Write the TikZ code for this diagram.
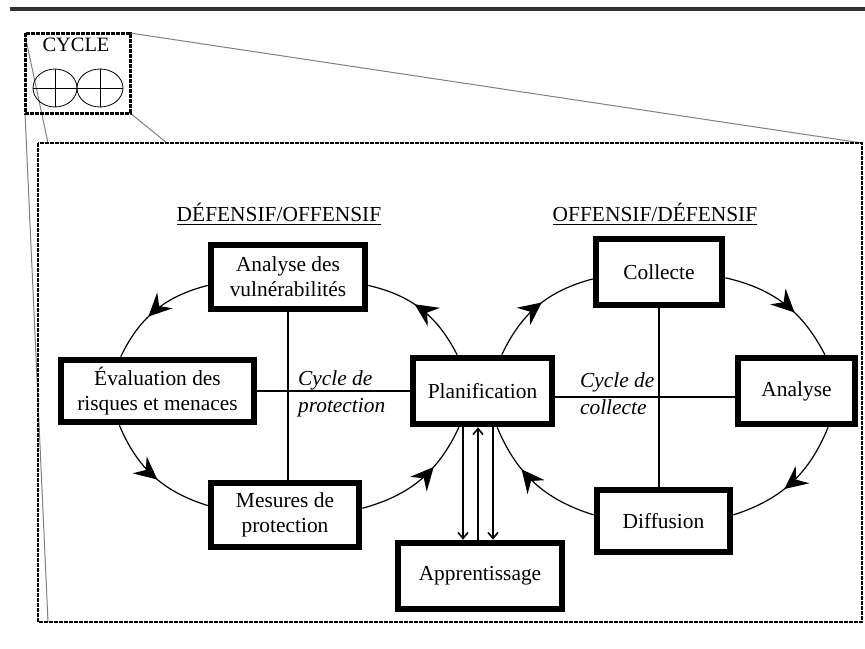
\documentclass[tikz,border=0pt]{standalone}
\usepackage{fontspec}
\setmainfont{Liberation Serif}
\usetikzlibrary{arrows.meta,decorations.markings}

\begin{document}
\begin{tikzpicture}[x=0.5pt,y=-0.5pt,
	font=\fontsize{10.7}{12.5}\selectfont,
	box/.style={draw, line width=3.3pt, fill=white, align=center, inner sep=0pt},
	frame/.style={line width=#1, dash pattern=on 2pt off 0.5pt},
	zoomline/.style={gray, line width=0.5pt},
	link/.style={line width=0.6pt},
	cyc/.style={line width=0.6pt, postaction={decorate}, decoration={markings,
		mark=at position #1 with {\arrow{Stealth[length=11.5pt,width=11pt,inset=4pt]}}}},
	flow/.style={line width=0.8pt, -{Straight Barb[length=3pt,width=5pt]}}]

	\useasboundingbox (0,0) rectangle (865,648);

	\draw[line width=1.6pt, black!80] (10,9) -- (865,9);

	% zoom
	\coordinate (stl) at (25,33);
	\coordinate (str) at (130,33);
	\coordinate (sbl) at (25,113);
	\coordinate (sbr) at (130,113);
	\coordinate (btl) at (38,143);
	\coordinate (btr) at (862,143);
	\coordinate (bbr) at (862,622);

	\draw[zoomline] (str) -- (btr);
	\draw[zoomline] (sbr) -- (167,143);
	\draw[zoomline] ([yshift=-1pt]stl) -- (48,143);
	\draw[zoomline] (sbl) -- (48,622);

	\draw[frame=1.5pt] (stl) rectangle (sbr);
	\draw[frame=1pt] (btl) rectangle (bbr);

	\node[font=\fontsize{10.2}{12}\selectfont] (cycname) at (76,45) {CYCLE};
	\draw (55,88) ellipse [x radius=22, y radius=19];
	\draw (100,88) ellipse [x radius=23, y radius=19];
	\draw (33,88) -- (77,88) (55,69) -- (55,107);
	\draw (77,88) -- (123,88) (100,69) -- (100,107);

	% titres
	\node (defoff) at (279,214) {\underline{DÉFENSIF/OFFENSIF}};
	\node (offdef) at (655,214) {\underline{OFFENSIF/DÉFENSIF}};

	% boites
	\node[box, minimum width=77pt, minimum height=32pt] (vuln) at (288,277) {Analyse des\\vulnérabilités};
	\node[box, minimum width=96.5pt, minimum height=31pt] (risk) at (157.5,391) {Évaluation des\\risques et menaces};
	\node[box, minimum width=74pt, minimum height=32pt] (mesures) at (285,515) {Mesures de\\protection};
	\node[box, minimum width=69.5pt, minimum height=33pt] (plan) at (482.5,391) {Planification};
	\node[box, minimum width=82pt, minimum height=33pt] (appr) at (480,576) {Apprentissage};
	\node[box, minimum width=63pt, minimum height=33pt] (collecte) at (659,272) {Collecte};
	\node[box, minimum width=58.5pt, minimum height=33pt] (analyse) at (796.5,391) {Analyse};
	\node[box, minimum width=66.5pt, minimum height=31pt] (diffusion) at (663.5,521) {Diffusion};

	\node[anchor=west, align=left, font=\fontsize{10.7}{13.5}\selectfont\itshape] (cprot) at (291,394) {Cycle de\\protection};
	\node[anchor=west, align=left, font=\fontsize{10.7}{13.5}\selectfont\itshape] (ccoll) at (573,394) {Cycle de\\collecte};

	% axes des cycles
	\draw[link] (vuln.south) -- (vuln.south |- mesures.north);
	\draw[link] (risk) -- (plan);
	\draw[link] (collecte.south) -- (collecte.south |- diffusion.north);
	\draw[link] ([yshift=-3pt]plan.east) -- ([yshift=-3pt]analyse.west);

	% cycle de protection
	\draw[cyc=0.58] (vuln.186) to[bend right=25] (risk.137);
	\draw[cyc=0.54] (risk.222) to[bend right=25] (mesures.173);
	\draw[cyc=0.64] (mesures.5) to[bend right=25] (plan.237);
	\draw[cyc=0.57] (plan.125) to[bend right=25] (vuln.-6);

	% cycle de collecte
	\draw[cyc=0.54] (plan.62) to[bend left=25] (collecte.186);
	\draw[cyc=0.6] (collecte.-5) to[bend left=25] (analyse.52);
	\draw[cyc=0.57] (analyse.-49) to[bend left=25] (diffusion.5);
	\draw[cyc=0.64] (diffusion.175) to[bend left=25] (plan.-68);

	\draw[flow] ([xshift=-9.75pt]plan.south) -- ([xshift=-8.5pt]appr.north);
	\draw[flow] ([xshift=-1pt]appr.north) -- ([xshift=-2.25pt]plan.south);
	\draw[flow] ([xshift=5.25pt]plan.south) -- ([xshift=6.5pt]appr.north);

\end{tikzpicture}
\end{document}
